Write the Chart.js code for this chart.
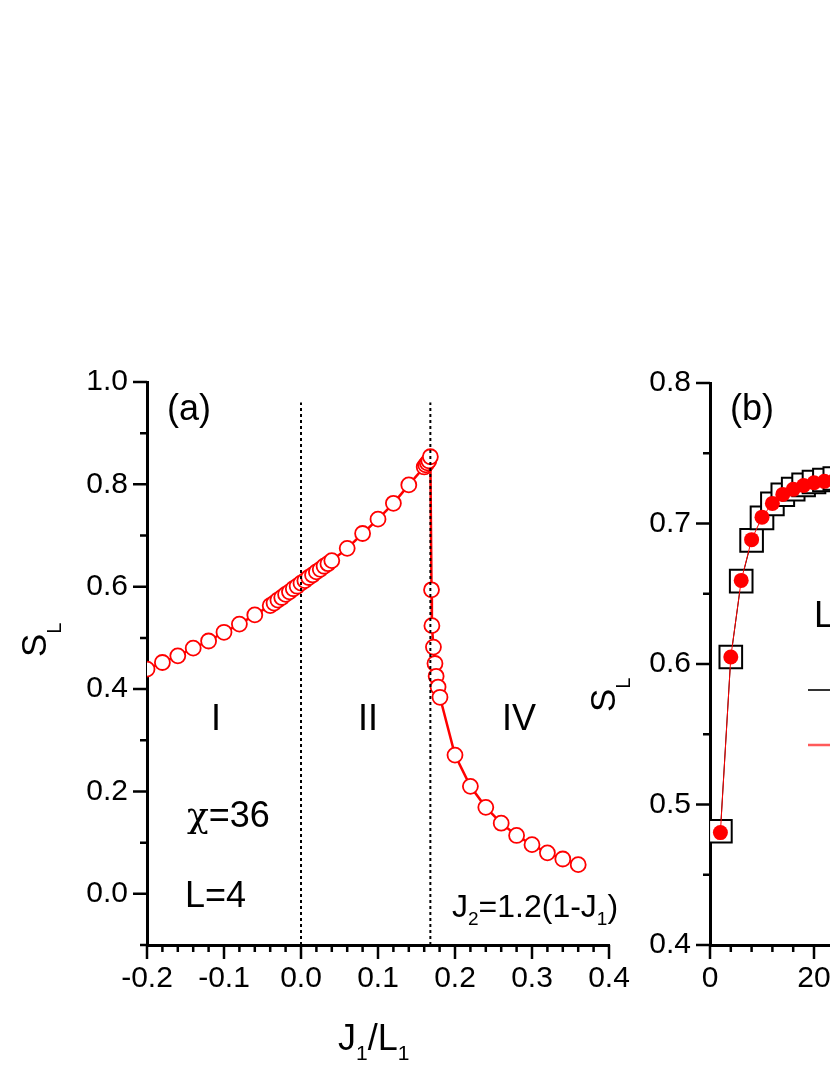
<!DOCTYPE html>
<html>
<head>
<meta charset="utf-8">
<script src="https://cdn.jsdelivr.net/npm/chart.js@4.4.1/dist/chart.umd.min.js"></script>
<style>
  html, body { margin: 0; padding: 0; background: #fff; overflow: hidden; }
  body { width: 830px; height: 1075px; position: relative; }
  canvas { position: absolute; top: 0; }
  #chartA { left: 0; }
  #chartB { left: 560px; }
</style>
</head>
<body>
<canvas id="chartA" width="700" height="1075"></canvas>
<canvas id="chartB" width="620" height="1075"></canvas>
<script>
// panel (a): S_L against J1/L1, chi=36, L=4
const couplingJ1 = [
  -0.20, -0.18, -0.16, -0.14, -0.12, -0.10, -0.08, -0.06,
  -0.040, -0.035, -0.030, -0.025, -0.020, -0.015, -0.010, -0.005, 0.000,
  0.005, 0.010, 0.015, 0.020, 0.025, 0.030, 0.035, 0.040,
  0.06, 0.08, 0.10, 0.12, 0.14, 0.160, 0.162, 0.164, 0.166, 0.168,
  0.1695, 0.170, 0.172, 0.174, 0.1755, 0.178, 0.1805,
  0.20, 0.22, 0.24, 0.26, 0.28, 0.30, 0.32, 0.34, 0.36
]
const entropyChi36 = [
  0.439, 0.452, 0.465, 0.480, 0.494, 0.511, 0.527, 0.545,
  0.563, 0.568, 0.574, 0.579, 0.585, 0.590, 0.596, 0.601, 0.607,
  0.612, 0.618, 0.623, 0.629, 0.634, 0.640, 0.645, 0.651,
  0.675, 0.704, 0.732, 0.763, 0.799, 0.834, 0.838, 0.842, 0.846, 0.854,
  0.594, 0.524, 0.482, 0.450, 0.425, 0.404, 0.384,
  0.271, 0.210, 0.169, 0.138, 0.114, 0.096, 0.080, 0.068, 0.057
]
const phaseBoundaries = [0, 0.168]
const aXTicks = [-0.2, -0.1, 0.0, 0.1, 0.2, 0.3, 0.4]
const aYTicks = [0.0, 0.2, 0.4, 0.6, 0.8, 1.0]

// panel (b): S_L against chain size
const chainN = [2, 4, 6, 8, 10, 12, 14, 16, 18, 20, 22, 24, 26, 28]
const entropySquares = [0.481, 0.605, 0.659, 0.688, 0.704, 0.714, 0.7205, 0.7245, 0.7275, 0.7295, 0.731, 0.732, 0.7325, 0.733]
const entropyCircles = [0.480, 0.605, 0.6595, 0.6885, 0.7045, 0.7143, 0.7207, 0.7243, 0.727, 0.729, 0.730, 0.731, 0.7318, 0.7325]
const bXTicks = [0, 20, 40, 60, 80]
const bYTicks = [0.4, 0.5, 0.6, 0.7, 0.8]

const FONT = 'Arial, "Liberation Sans", sans-serif'

const toPoints = (xs, ys) => xs.map((x, i) => ({ x, y: ys[i] }))

// major + minor tick marks, drawn outward from the axes
const axisTicks = {
  id: 'axisTicks',
  afterDraw(chart, args, opts) {
    const ctx = chart.ctx
    const { left, bottom } = chart.chartArea
    const xs = chart.scales.x
    const ys = chart.scales.y
    const isMajor = (list, v) => list.some(m => Math.abs(m - v) < 1e-9)
    ctx.save()
    ctx.strokeStyle = '#000'
    ctx.lineWidth = 2.5
    ctx.beginPath()
    for (let i = 0; ; i++) {
      const v = xs.min + i * opts.xMinor
      if (v > xs.max + 1e-9) break
      const px = xs.getPixelForValue(v)
      ctx.moveTo(px, bottom)
      ctx.lineTo(px, bottom + (isMajor(opts.xMajor, v) ? 14 : 7))
    }
    for (let i = 0; ; i++) {
      const v = ys.min + i * opts.yMinor
      if (v > ys.max + 1e-9) break
      const py = ys.getPixelForValue(v)
      ctx.moveTo(left, py)
      ctx.lineTo(left - (isMajor(opts.yMajor, v) ? 14 : 7), py)
    }
    ctx.stroke()
    ctx.restore()
  }
}

// parts: [text, isSubscript, fontFamily]
function drawRich(ctx, x, y, parts, size, subSize, subDrop) {
  let cx = x
  parts.forEach(([t, sub, family]) => {
    ctx.font = `${sub ? subSize : size}px ${family || FONT}`
    ctx.fillText(t, cx, sub ? y + subDrop : y)
    cx += ctx.measureText(t).width
  })
}

function drawVertical(ctx, x, y, parts, size, subSize, subDrop) {
  ctx.save()
  ctx.translate(x, y)
  ctx.rotate(-Math.PI / 2)
  drawRich(ctx, 0, 0, parts, size, subSize, subDrop)
  ctx.restore()
}

const labelsA = {
  id: 'labelsA',
  afterDraw(chart) {
    const ctx = chart.ctx
    ctx.save()
    ctx.fillStyle = '#000'
    ctx.textBaseline = 'alphabetic'
    ctx.textAlign = 'left'
    drawRich(ctx, 167, 420, [['(a)']], 36)
    drawRich(ctx, 211, 730, [['I']], 36)
    drawRich(ctx, 358, 730, [['II']], 36)
    drawRich(ctx, 502, 730, [['IV']], 36)
    drawRich(ctx, 187, 827, [['χ', false, '"DejaVu Serif", serif'], ['=36']], 36)
    drawRich(ctx, 185, 907, [['L=4']], 36)
    drawRich(ctx, 452, 917, [['J'], ['2', true], ['=1.2(1-J'], ['1', true], [')']], 32, 19, 8)
    drawRich(ctx, 338, 1050, [['J'], ['1', true], ['/L'], ['1', true]], 36, 21, 10)
    drawVertical(ctx, 46, 657, [['S'], ['L', true]], 35, 20, 15)
    ctx.restore()
  }
}

const labelsB = {
  id: 'labelsB',
  afterDraw(chart) {
    const ctx = chart.ctx
    ctx.save()
    ctx.fillStyle = '#000'
    ctx.textBaseline = 'alphabetic'
    ctx.textAlign = 'left'
    drawRich(ctx, 170, 420, [['(b)']], 36)
    drawRich(ctx, 254, 627, [['L']], 36)
    drawVertical(ctx, 55, 712, [['S'], ['L', true]], 35, 20, 15)
    // legend samples
    ctx.lineWidth = 2
    ctx.strokeStyle = '#333'
    ctx.beginPath()
    ctx.moveTo(248, 690)
    ctx.lineTo(290, 690)
    ctx.stroke()
    ctx.strokeStyle = '#ff5a5a'
    ctx.lineWidth = 2.5
    ctx.beginPath()
    ctx.moveTo(248, 745)
    ctx.lineTo(290, 745)
    ctx.stroke()
    ctx.restore()
  }
}

function axisOptions(min, max, ticks, fit, padding, position, format) {
  return {
    type: 'linear',
    position,
    min,
    max,
    afterBuildTicks: (axis) => { axis.ticks = ticks.map(v => ({ value: v })) },
    afterFit: fit,
    grid: { display: false, drawTicks: true, tickLength: 14 },
    border: { display: true, color: '#000', width: 3 },
    ticks: {
      color: '#000',
      padding,
      font: { family: FONT, size: 30 },
      maxRotation: 0,
      autoSkip: false,
      callback: format
    }
  }
}

const oneDecimal = (v) => v.toFixed(1)

const dotted = phaseBoundaries.map(b => ({
  data: [{ x: b, y: -0.1 }, { x: b, y: 0.96 }],
  showLine: true,
  borderColor: '#000',
  borderWidth: 2,
  borderDash: [3, 3],
  pointRadius: 0
}))

new Chart(document.getElementById('chartA'), {
  type: 'scatter',
  data: {
    datasets: [
      ...dotted,
      {
        data: toPoints(couplingJ1, entropyChi36),
        showLine: true,
        borderColor: '#ff0000',
        borderWidth: 2.5,
        pointRadius: 7.5,
        pointBorderWidth: 1.8,
        pointBackgroundColor: '#ffffff',
        pointBorderColor: '#ff0000',
        tension: 0
      }
    ]
  },
  options: {
    responsive: false,
    animation: false,
    devicePixelRatio: 1,
    layout: { padding: { top: 382, right: 91, bottom: 0, left: 0 } },
    plugins: {
      legend: { display: false },
      tooltip: { enabled: false },
      axisTicks: { xMinor: 0.02, yMinor: 0.1, xMajor: aXTicks, yMajor: aYTicks }
    },
    scales: {
      x: axisOptions(-0.2, 0.4, aXTicks, (s) => { s.height = 130 }, 2, 'bottom', oneDecimal),
      y: axisOptions(-0.1, 1.0, aYTicks, (s) => { s.width = 147 }, 5, 'left', oneDecimal)
    }
  },
  plugins: [axisTicks, labelsA]
})

new Chart(document.getElementById('chartB'), {
  type: 'scatter',
  data: {
    datasets: [
      {
        data: toPoints(chainN, entropyCircles),
        showLine: true,
        borderColor: '#ff0000',
        borderWidth: 1,
        pointRadius: 7.5,
        pointBorderWidth: 0,
        pointBackgroundColor: '#ff0000',
        pointBorderColor: '#ff0000'
      },
      {
        data: toPoints(chainN, entropySquares),
        showLine: true,
        borderColor: '#000',
        borderWidth: 1,
        pointStyle: 'rect',
        pointRadius: 16,
        pointBorderWidth: 2,
        pointBackgroundColor: '#ffffff',
        pointBorderColor: '#000'
      }
    ]
  },
  options: {
    responsive: false,
    animation: false,
    devicePixelRatio: 1,
    layout: { padding: { top: 383, right: 54, bottom: 0, left: 0 } },
    plugins: {
      legend: { display: false },
      tooltip: { enabled: false },
      axisTicks: { xMinor: 4, yMinor: 0.05, xMajor: bXTicks, yMajor: bYTicks }
    },
    scales: {
      x: axisOptions(0, 80, bXTicks, (s) => { s.height = 130 }, 2, 'bottom', (v) => String(v)),
      y: axisOptions(0.4, 0.8, bYTicks, (s) => { s.width = 150 }, 5, 'left', oneDecimal)
    }
  },
  plugins: [axisTicks, labelsB]
})
</script>
</body>
</html>
